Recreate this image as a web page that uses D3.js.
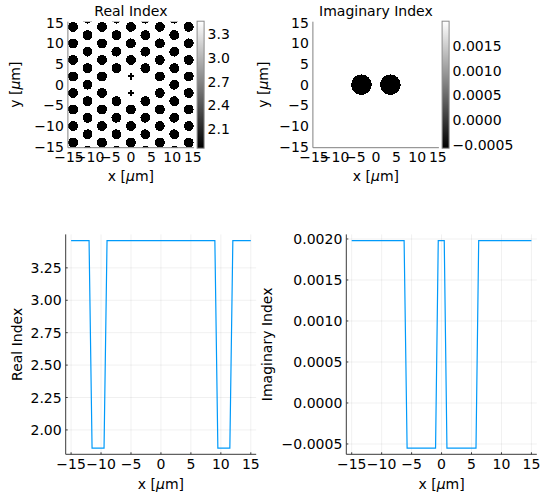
<!DOCTYPE html>
<html>
<head>
<meta charset="utf-8">
<script src="https://cdn.jsdelivr.net/npm/d3@7"></script>
<style>
    body { margin: 0; background: #fff; }
    svg { font-family: 'DejaVu Sans', sans-serif; font-size: 14px; }
</style>
</head>
<body>
<svg id="fig" width="549" height="493"></svg>
<script>
// Air hole lattice of the fibre (µm): x of every column, y of the holes in it
const holeColsX = [-14, -10.5, -7, -3.5, 0, 3.5, 7, 10.5, 14]
const holeRowsA = [-14, -10, -6, -2, 2, 6, 10, 14]      // columns 0, ±7, ±14
const holeRowsB = [-16, -12, -8, -4, 0, 4, 8, 12, 16]   // columns ±3.5, ±10.5
const holeRadius = 1.2

// Two cores replace holes, two small holes sit between them
const coreCenters = [[-3.5, 0], [3.5, 0]]
const coreRadius = 2.5
const smallHoles = [[0, 2], [0, -2]]

// [hole / core, background]
const realLevels = [1.86, 3.46]
const imagLevels = [-0.00055, 0.00198]

const mapTicks = [-15, -10, -5, 0, 5, 10, 15]
const realBarTicks = [2.1, 2.4, 2.7, 3.0, 3.3]
const imagBarTicks = [-0.0005, 0, 0.0005, 0.001, 0.0015]

// Cut along y = 0
const realCutX = [-15, -12, -11.5, -9.5, -9, 9, 9.5, 11.5, 12, 15]
const realCutN = [3.46, 3.46, 1.86, 1.86, 3.46, 3.46, 1.86, 1.86, 3.46, 3.46]
const imagCutX = [-15, -6.25, -5.75, -1, -0.55, 0.45, 0.9, 5.75, 6.2, 15]
const imagCutK = [0.00198, 0.00198, -0.00055, -0.00055, 0.00198, 0.00198, -0.00055, -0.00055, 0.00198, 0.00198]
const cutXTicks = [-15, -10, -5, 0, 5, 10, 15]
const realCutTicks = [2.0, 2.25, 2.5, 2.75, 3.0, 3.25]
const imagCutTicks = [-0.0005, 0, 0.0005, 0.001, 0.0015, 0.002]

const svg = d3.select('#fig')
const lineColor = '#009afa'

const sameHole = (a, b) => a[0] === b[0] && a[1] === b[1]
const holes = []
holeColsX.forEach((hx, i) => {
    const rows = i % 2 === 0 ? holeRowsA : holeRowsB
    rows.forEach(hy => {
        const p = [hx, hy]
        if (coreCenters.some(c => sameHole(c, p)) || smallHoles.some(c => sameHole(c, p))) return
        holes.push(p)
    })
})

const fmtInt = d3.format('d')

// "x [µm]" with the mu in italics, like the LaTeX label
const unitLabel = (sel, name) => {
    sel.append('tspan').text(name + ' [')
    sel.append('tspan').attr('font-style', 'italic').text('μ')
    sel.append('tspan').text('m]')
}

// Heatmap with its colour bar
const drawMap = (opt) => {
    const size = 126
    const top = 21.7
    const x = d3.scaleLinear().domain([-15.25, 15.25]).range([opt.left, opt.left + size])
    const y = d3.scaleLinear().domain([-15.25, 15.25]).range([top + size, top])
    const color = d3.scaleLinear().domain(opt.levels).range(['#000', '#fff'])

    svg.append('clipPath').attr('id', opt.id)
        .append('rect')
        .attr('x', x(-15.25)).attr('y', y(15.25))
        .attr('width', size).attr('height', size)

    const g = svg.append('g').attr('clip-path', `url(#${opt.id})`)
    g.append('rect')
        .attr('x', x(-15.25)).attr('y', y(15.25))
        .attr('width', size).attr('height', size)
        .attr('fill', color(opt.levels[1]))

    g.selectAll('circle')
        .data(opt.circles)
        .enter()
        .append('circle')
        .attr('cx', d => x(d[0]))
        .attr('cy', d => y(d[1]))
        .attr('r', x(opt.radius) - x(0))
        .attr('fill', color(opt.levels[0]))
        .attr('shape-rendering', 'crispEdges')

    if (opt.crosses) {
        const cell = x(0.5) - x(0)
        g.selectAll('path.small')
            .data(opt.crosses)
            .enter()
            .append('path')
            .attr('class', 'small')
            .attr('d', d3.symbol(d3.symbolCross, 5 * cell * cell))
            .attr('transform', d => `translate(${x(d[0])},${y(d[1])})`)
            .attr('fill', color(opt.levels[0]))
            .attr('shape-rendering', 'crispEdges')
    }

    // axes
    const axisColor = '#808080'
    svg.append('line')
        .attr('x1', x(-15.25)).attr('x2', x(-15.25))
        .attr('y1', y(15.25)).attr('y2', y(-15.25))
        .attr('stroke', axisColor)
    svg.append('line')
        .attr('x1', x(-15.25)).attr('x2', x(15.25))
        .attr('y1', y(-15.25)).attr('y2', y(-15.25))
        .attr('stroke', axisColor)

    svg.selectAll(null)
        .data(mapTicks)
        .enter()
        .append('text')
        .attr('x', d => x(d))
        .attr('y', top + size + 14)
        .attr('text-anchor', 'middle')
        .text(d => fmtInt(d))

    svg.selectAll(null)
        .data(mapTicks)
        .enter()
        .append('text')
        .attr('x', x(-15.25) - 4)
        .attr('y', d => y(d) + 5)
        .attr('text-anchor', 'end')
        .text(d => fmtInt(d))

    svg.append('text')
        .attr('x', opt.left + size / 2)
        .attr('y', 16)
        .attr('text-anchor', 'middle')
        .text(opt.title)

    svg.append('text')
        .attr('x', opt.left + size / 2)
        .attr('y', 181)
        .attr('text-anchor', 'middle')
        .call(unitLabel, 'x')

    svg.append('text')
        .attr('transform', `translate(${opt.ylabelX},${top + size / 2}) rotate(-90)`)
        .attr('text-anchor', 'middle')
        .call(unitLabel, 'y')

    // colour bar
    const barX = opt.left + size + 3.2
    const barW = 7
    const cb = d3.scaleLinear().domain(opt.levels).range([top + size, top])
    const grad = svg.append('defs').append('linearGradient')
        .attr('id', opt.id + '-grad')
        .attr('x1', 0).attr('y1', 1).attr('x2', 0).attr('y2', 0)
    grad.append('stop').attr('offset', 0).attr('stop-color', color(opt.levels[0]))
    grad.append('stop').attr('offset', 1).attr('stop-color', color(opt.levels[1]))

    svg.append('rect')
        .attr('x', barX).attr('y', top - 0.5)
        .attr('width', barW).attr('height', size + 1)
        .attr('fill', `url(#${opt.id}-grad)`)
        .attr('stroke', '#8c8c8c')
        .attr('stroke-width', 1)

    svg.selectAll(null)
        .data(opt.barTicks)
        .enter()
        .append('text')
        .attr('x', barX + barW + 3.5)
        .attr('y', d => cb(d) + 5)
        .text(d => opt.barFormat(d))
}

// Line cut with grid
const drawCut = (opt) => {
    const top = 234.4
    const bottom = 454.3
    const width = 190.5
    const x = d3.scaleLinear().domain([-15.9, 15.9]).range([opt.left, opt.left + width])
    const ext = d3.extent(opt.ys)
    const pad = (ext[1] - ext[0]) * 0.03
    const y = d3.scaleLinear().domain([ext[0] - pad, ext[1] + pad]).range([bottom, top])

    const g = svg.append('g')
    g.selectAll('line.vgrid')
        .data(cutXTicks)
        .enter()
        .append('line')
        .attr('x1', d => x(d)).attr('x2', d => x(d))
        .attr('y1', top).attr('y2', bottom)
        .attr('stroke', '#000').attr('stroke-opacity', 0.1).attr('stroke-width', 0.6)
    g.selectAll('line.hgrid')
        .data(opt.yTicks)
        .enter()
        .append('line')
        .attr('x1', opt.left).attr('x2', opt.left + width)
        .attr('y1', d => y(d)).attr('y2', d => y(d))
        .attr('stroke', '#000').attr('stroke-opacity', 0.1).attr('stroke-width', 0.6)

    const line = d3.line()
        .x((d, i) => x(opt.xs[i]))
        .y(d => y(d))
    g.append('path')
        .datum(opt.ys)
        .attr('d', line)
        .attr('fill', 'none')
        .attr('stroke', lineColor)
        .attr('stroke-width', 1.2)

    const axisColor = '#3a3a3a'
    g.append('line')
        .attr('x1', opt.left).attr('x2', opt.left)
        .attr('y1', top).attr('y2', bottom)
        .attr('stroke', axisColor)
    g.append('line')
        .attr('x1', opt.left).attr('x2', opt.left + width)
        .attr('y1', bottom).attr('y2', bottom)
        .attr('stroke', axisColor)

    // small inward ticks
    g.selectAll(null)
        .data(cutXTicks)
        .enter()
        .append('line')
        .attr('x1', d => x(d)).attr('x2', d => x(d))
        .attr('y1', bottom).attr('y2', bottom - 2)
        .attr('stroke', axisColor)
    g.selectAll(null)
        .data(opt.yTicks)
        .enter()
        .append('line')
        .attr('x1', opt.left).attr('x2', opt.left + 2)
        .attr('y1', d => y(d)).attr('y2', d => y(d))
        .attr('stroke', axisColor)

    svg.selectAll(null)
        .data(cutXTicks)
        .enter()
        .append('text')
        .attr('x', d => x(d))
        .attr('y', bottom + 15)
        .attr('text-anchor', 'middle')
        .text(d => fmtInt(d))

    svg.selectAll(null)
        .data(opt.yTicks)
        .enter()
        .append('text')
        .attr('x', opt.left - 4)
        .attr('y', d => y(d) + 5)
        .attr('text-anchor', 'end')
        .text(d => opt.yFormat(d))

    svg.append('text')
        .attr('x', x(0))
        .attr('y', 489)
        .attr('text-anchor', 'middle')
        .call(unitLabel, 'x')

    svg.append('text')
        .attr('transform', `translate(${opt.ylabelX},${(top + bottom) / 2}) rotate(-90)`)
        .attr('text-anchor', 'middle')
        .text(opt.ylabel)
}

drawMap({
    id: 'real-map', left: 67.9, title: 'Real Index', ylabelX: 20,
    levels: realLevels, circles: holes, radius: holeRadius, crosses: smallHoles,
    barTicks: realBarTicks, barFormat: d3.format('.1f')
})

drawMap({
    id: 'imag-map', left: 312.9, title: 'Imaginary Index', ylabelX: 268,
    levels: imagLevels, circles: coreCenters, radius: coreRadius,
    barTicks: imagBarTicks, barFormat: d3.format('.4f')
})

drawCut({
    left: 65.7, xs: realCutX, ys: realCutN, yTicks: realCutTicks,
    yFormat: d3.format('.2f'), ylabel: 'Real Index', ylabelX: 22
})

drawCut({
    left: 346.3, xs: imagCutX, ys: imagCutK, yTicks: imagCutTicks,
    yFormat: d3.format('.4f'), ylabel: 'Imaginary Index', ylabelX: 272
})
</script>
</body>
</html>
